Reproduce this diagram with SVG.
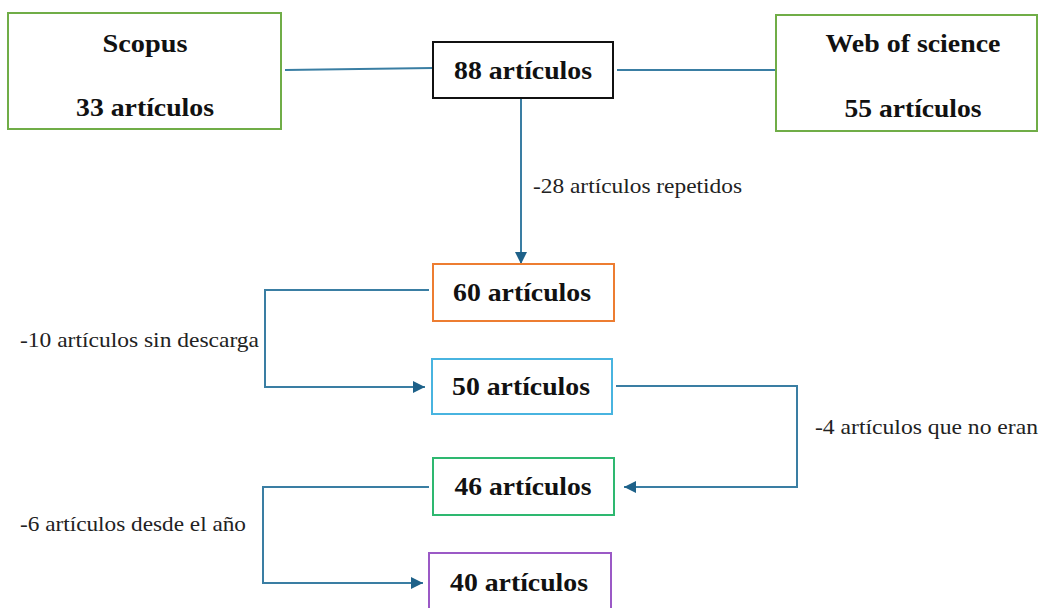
<svg xmlns="http://www.w3.org/2000/svg" width="1041" height="608" viewBox="0 0 1041 608">
<style>
.box{fill:#ffffff;stroke-width:2}
.bt{font-family:"Liberation Serif","Times New Roman",serif;font-weight:bold;font-size:26px;fill:#111;text-anchor:middle}
.lb{font-family:"Liberation Serif","Times New Roman",serif;font-size:21px;fill:#222}
.cn{fill:none;stroke:#3A7EA3;stroke-width:2}
</style>
<defs>
<marker id="ah" viewBox="0 0 12 12" refX="12" refY="6" markerWidth="12" markerHeight="12" markerUnits="userSpaceOnUse" orient="auto">
<path d="M0,0 L12,6 L0,12 Z" fill="#1E6189"/>
</marker>
</defs>
<rect width="1041" height="608" fill="#ffffff"/>
<g id="connectors">
<line class="cn" x1="285" y1="70" x2="433" y2="68"/>
<line class="cn" x1="617" y1="70" x2="776" y2="70"/>
<line class="cn" x1="521" y1="98" x2="521" y2="264" marker-end="url(#ah)"/>
<polyline class="cn" points="429,290 265,290 265,387 425,387" marker-end="url(#ah)"/>
<polyline class="cn" points="616,386 797,386 797,487 624,487" marker-end="url(#ah)"/>
<polyline class="cn" points="429,487 263,487 263,583 423,583" marker-end="url(#ah)"/>
<text class="lb" x="533" y="193" textLength="209" lengthAdjust="spacingAndGlyphs">-28 artículos repetidos</text>
<text class="lb" x="20" y="347" textLength="239" lengthAdjust="spacingAndGlyphs">-10 artículos sin descarga</text>
<text class="lb" x="815" y="434" textLength="223" lengthAdjust="spacingAndGlyphs">-4 artículos que no eran</text>
<text class="lb" x="20" y="531" textLength="226" lengthAdjust="spacingAndGlyphs">-6 artículos desde el año</text>
</g>
<g id="scopus">
<rect class="box" x="8" y="13" width="273" height="116" stroke="#70AD47"/>
<text class="bt" x="145" y="52" textLength="85" lengthAdjust="spacingAndGlyphs">Scopus</text>
<text class="bt" x="145" y="116" textLength="138" lengthAdjust="spacingAndGlyphs">33 artículos</text>
</g>
<g id="wos">
<rect class="box" x="776" y="15" width="261" height="116" stroke="#70AD47"/>
<text class="bt" x="913" y="52" textLength="175" lengthAdjust="spacingAndGlyphs">Web of science</text>
<text class="bt" x="913" y="117" textLength="137" lengthAdjust="spacingAndGlyphs">55 artículos</text>
</g>
<g id="n88">
<rect class="box" x="433" y="42" width="180" height="56" stroke="#111111"/>
<text class="bt" x="523" y="79" textLength="138" lengthAdjust="spacingAndGlyphs">88 artículos</text>
</g>
<g id="n60">
<rect class="box" x="433" y="264" width="181" height="57" stroke="#ED7D31"/>
<text class="bt" x="522" y="301" textLength="138" lengthAdjust="spacingAndGlyphs">60 artículos</text>
</g>
<g id="n50">
<rect class="box" x="432" y="359" width="180" height="55" stroke="#48B4E0"/>
<text class="bt" x="521" y="395" textLength="138" lengthAdjust="spacingAndGlyphs">50 artículos</text>
</g>
<g id="n46">
<rect class="box" x="433" y="458" width="181" height="57" stroke="#2EB870"/>
<text class="bt" x="523" y="495" textLength="137" lengthAdjust="spacingAndGlyphs">46 artículos</text>
</g>
<g id="n40">
<rect class="box" x="429" y="553" width="182" height="60" stroke="#9B59C6"/>
<text class="bt" x="519" y="591" textLength="138" lengthAdjust="spacingAndGlyphs">40 artículos</text>
</g>
</svg>
